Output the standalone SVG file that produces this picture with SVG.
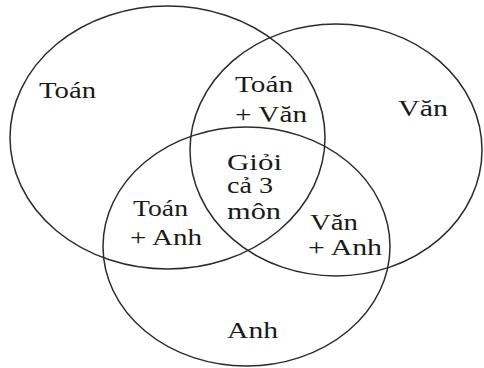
<svg xmlns="http://www.w3.org/2000/svg" width="484" height="368" viewBox="0 0 484 368">
<style>
.c{fill:none;stroke:#2b2b2b;stroke-width:1.5}
text{font-family:"Liberation Serif","Times New Roman",serif;font-size:23px;fill:#1a1a1a}
</style>
<rect width="484" height="368" fill="#fff"/>
<g id="sets">
<g id="toan"><ellipse class="c" cx="167.5" cy="137.5" rx="157.5" ry="131.5"/></g>
<g id="van"><ellipse class="c" cx="336" cy="150" rx="146" ry="126"/></g>
<g id="anh"><ellipse class="c" cx="246.5" cy="246.5" rx="143.5" ry="119.5"/></g>
</g>
<g id="labels">
<text x="39" y="98" textLength="57" lengthAdjust="spacingAndGlyphs">Toán</text>
<text x="235" y="92" textLength="58" lengthAdjust="spacingAndGlyphs">Toán</text>
<text x="235" y="121.5" textLength="72" lengthAdjust="spacingAndGlyphs">+ Văn</text>
<text x="398" y="115.5" textLength="50" lengthAdjust="spacingAndGlyphs">Văn</text>
<text x="227" y="170" textLength="55" lengthAdjust="spacingAndGlyphs">Giỏi</text>
<text x="227" y="193" textLength="46" lengthAdjust="spacingAndGlyphs">cả 3</text>
<text x="227" y="219" textLength="54" lengthAdjust="spacingAndGlyphs">môn</text>
<text x="133" y="216" textLength="55" lengthAdjust="spacingAndGlyphs">Toán</text>
<text x="130" y="245" textLength="72" lengthAdjust="spacingAndGlyphs">+ Anh</text>
<text x="310" y="230" textLength="48" lengthAdjust="spacingAndGlyphs">Văn</text>
<text x="308" y="255" textLength="74" lengthAdjust="spacingAndGlyphs">+ Anh</text>
<text x="227" y="338" textLength="51" lengthAdjust="spacingAndGlyphs">Anh</text>
</g>
</svg>
